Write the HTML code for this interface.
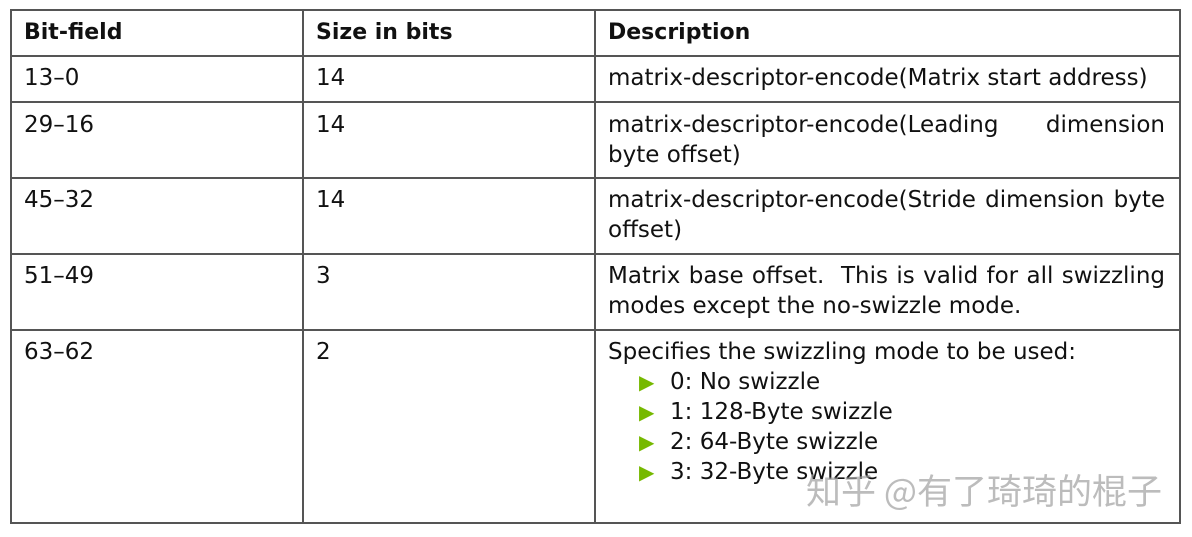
<!DOCTYPE html>
<html><head><meta charset="utf-8"><style>
body{margin:0;width:1192px;height:537px;background:#fff;position:relative;overflow:hidden;font-family:"DejaVu Sans","Liberation Sans","Noto Sans CJK SC",sans-serif;color:#111;font-size:23px}
.h{position:absolute;background:#555;height:1.5px}
.v{position:absolute;background:#555;width:1.5px;top:9px;height:514px}
.t{position:absolute;line-height:30px;white-space:nowrap}
.b{font-weight:bold;font-size:22px}
.j{position:absolute;left:608px;width:557px;line-height:30px;text-align:justify;text-align-last:justify;white-space:nowrap}
.tri{color:#76b900;font-size:20px;display:inline-block;width:31px;vertical-align:0px}
.wm{position:absolute;left:806px;top:469px;font-size:35px;color:rgba(160,160,160,0.7);font-family:"Noto Sans CJK SC",sans-serif;line-height:42px;white-space:nowrap}
</style></head><body>
<div class="h" style="left:10px;width:1171px;top:9px"></div>
<div class="h" style="left:10px;width:1171px;top:55px"></div>
<div class="h" style="left:10px;width:1171px;top:101px"></div>
<div class="h" style="left:10px;width:1171px;top:177px"></div>
<div class="h" style="left:10px;width:1171px;top:253px"></div>
<div class="h" style="left:10px;width:1171px;top:329px"></div>
<div class="h" style="left:10px;width:1171px;top:522px"></div>
<div class="v" style="left:10px"></div>
<div class="v" style="left:302px"></div>
<div class="v" style="left:594px"></div>
<div class="v" style="left:1179px"></div>

<div class="t b" style="left:24px;top:18px">Bit-field</div>
<div class="t b" style="left:316px;top:18px">Size in bits</div>
<div class="t b" style="left:608px;top:18px">Description</div>

<div class="t" style="left:24px;top:63px">13–0</div>
<div class="t" style="left:316px;top:63px">14</div>
<div class="t" style="left:608px;top:63px">matrix-descriptor-encode(Matrix start address)</div>

<div class="t" style="left:24px;top:110px">29–16</div>
<div class="t" style="left:316px;top:110px">14</div>
<div class="j" style="top:110px">matrix-descriptor-encode(Leading dimension</div>
<div class="t" style="left:608px;top:140px">byte offset)</div>

<div class="t" style="left:24px;top:185px">45–32</div>
<div class="t" style="left:316px;top:185px">14</div>
<div class="j" style="top:185px">matrix-descriptor-encode(Stride dimension byte</div>
<div class="t" style="left:608px;top:215px">offset)</div>

<div class="t" style="left:24px;top:261px">51–49</div>
<div class="t" style="left:316px;top:261px">3</div>
<div class="j" style="top:261px">Matrix base offset.&nbsp; This is valid for all swizzling</div>
<div class="t" style="left:608px;top:291px">modes except the no-swizzle mode.</div>

<div class="t" style="left:24px;top:337px">63–62</div>
<div class="t" style="left:316px;top:337px">2</div>
<div class="t" style="left:608px;top:337px">Specifies the swizzling mode to be used:</div>
<div class="t" style="left:639px;top:367px"><span class="tri">▶</span>0: No swizzle</div>
<div class="t" style="left:639px;top:397px"><span class="tri">▶</span>1: 128-Byte swizzle</div>
<div class="t" style="left:639px;top:427px"><span class="tri">▶</span>2: 64-Byte swizzle</div>
<div class="t" style="left:639px;top:457px"><span class="tri">▶</span>3: 32-Byte swizzle</div>
<div class="wm">知乎 @有了琦琦的棍子</div>
</body></html>
